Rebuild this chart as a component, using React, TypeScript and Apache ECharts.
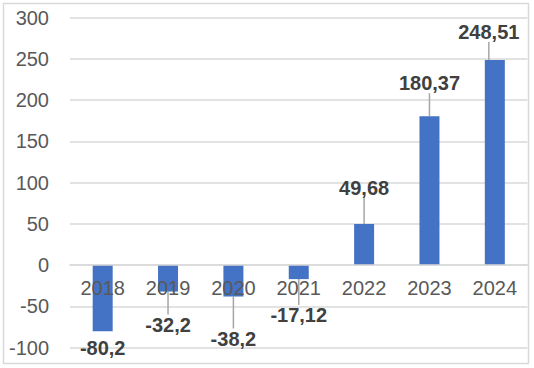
import React, { useEffect, useRef } from "react";
import * as echarts from "echarts";

const categories = ["2018", "2019", "2020", "2021", "2022", "2023", "2024"];
const values = [-80.2, -32.2, -38.2, -17.12, 49.68, 180.37, 248.51];
const yTicks = { min: -100, max: 300, interval: 50 };

// label displacement (pixels) for leader-lined data labels
const labelDx = [0, 0, 0, 0, 0, 0, -6];
const labelDy = [-4, 12, 21, 15, -15, -12, -7];
const showLeader = [false, true, true, true, true, true, true];

const FONT = "'Liberation Sans', Arial, sans-serif";

const GRID_TOP = 17.5;
const GRID_BOTTOM = 20.5;
const PLOT_H = 368 - GRID_TOP - GRID_BOTTOM;
// shift the category axis up from the grid bottom to the value 0
const zeroOffset =
  -PLOT_H * ((0 - yTicks.min) / (yTicks.max - yTicks.min));

export default function App() {
  const ref = useRef<HTMLDivElement>(null);

  useEffect(() => {
    if (!ref.current) return;
    const chart = echarts.init(ref.current, null, { renderer: "svg" });
    chart.setOption({
      animation: false,
      backgroundColor: "#ffffff",
      graphic: [
        {
          type: "rect",
          shape: { x: 3.5, y: 3.5, width: 525, height: 360 },
          style: { fill: "none", stroke: "#d9d9d9", lineWidth: 1.5 },
          silent: true,
          z: -1,
        },
      ],
      grid: {
        left: 70,
        right: 6.5,
        top: GRID_TOP,
        bottom: GRID_BOTTOM,
        containLabel: false,
        outerBoundsMode: "none",
      },
      xAxis: {
        type: "category",
        data: categories,
        z: 5,
        offset: zeroOffset,
        axisTick: { show: false },
        axisLine: {
          onZero: false,
          lineStyle: { color: "#d9d9d9", width: 1.5 },
        },
        axisLabel: {
          color: "#595959",
          fontSize: 20,
          fontFamily: FONT,
          margin: 13,
        },
        splitLine: { show: false },
      },
      yAxis: {
        type: "value",
        min: yTicks.min,
        max: yTicks.max,
        interval: yTicks.interval,
        axisLine: { show: false },
        axisTick: { show: false },
        axisLabel: {
          color: "#595959",
          fontSize: 20,
          fontFamily: FONT,
          margin: 21,
        },
        splitLine: { lineStyle: { color: "#d9d9d9", width: 1.5 } },
      },
      series: [
        {
          type: "bar",
          barWidth: 20,
          itemStyle: { color: "#4472c4" },
          data: values.map((v, i) => ({
            value: v,
            label: { position: v < 0 ? "bottom" : "top" },
            labelLine: { show: showLeader[i] },
          })),
          label: {
            show: true,
            fontSize: 20,
            fontWeight: "bold",
            fontFamily: FONT,
            color: "#404040",
            distance: 5,
            padding: [6, 4, 6, 4],
            formatter: (p: any) => String(p.value).replace(".", ","),
          },
          labelLine: {
            show: true,
            lineStyle: { color: "#a6a6a6", width: 1.5 },
          },
          labelLayout: (p: any) => ({
            dx: labelDx[p.dataIndex],
            dy: labelDy[p.dataIndex],
          }),
        },
      ],
    });
    return () => chart.dispose();
  }, []);

  return (
    <div
      ref={ref}
      style={{ position: "fixed", left: 0, top: 0, width: 534, height: 368 }}
    />
  );
}
